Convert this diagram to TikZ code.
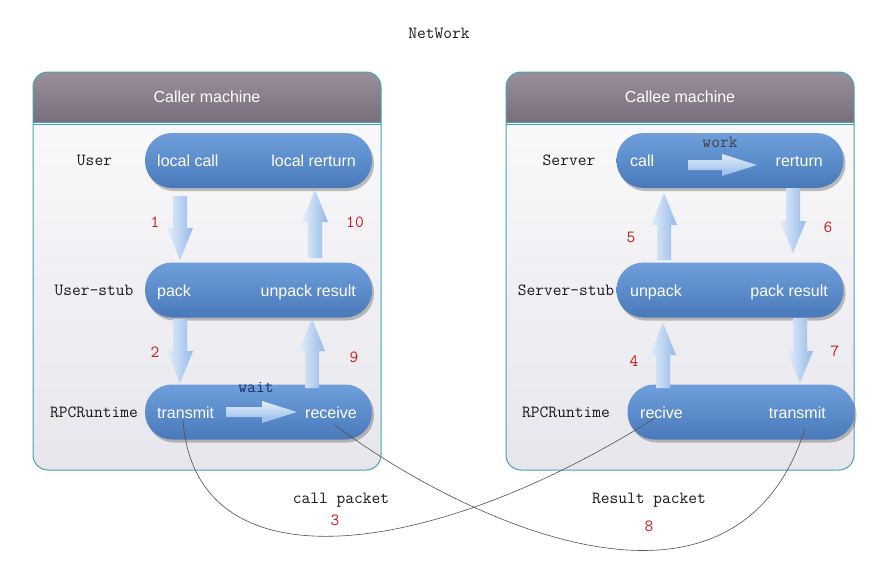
\documentclass[tikz,border=0pt]{standalone}
\usepackage{fontspec}
\setmainfont{Liberation Sans}
\usetikzlibrary{calc,shadows}
\definecolor{tealb}{HTML}{45A3B5}
\definecolor{hdtop}{HTML}{9A909C}
\definecolor{hdbot}{HTML}{6C6270}
\definecolor{bdtop}{HTML}{FAFAFC}
\definecolor{bdbot}{HTML}{E6E6EC}
\definecolor{pilltop}{HTML}{6E9FDB}
\definecolor{pillbot}{HTML}{4A79BA}
\definecolor{arlight}{HTML}{E4EEFA}
\definecolor{armid}{HTML}{B4D0F3}
\definecolor{ardark}{HTML}{93B9E9}
\definecolor{numred}{HTML}{C81818}
\definecolor{navy}{HTML}{1F2F6F}
\definecolor{curvec}{HTML}{505050}
\tikzset{
  pill/.style={shape=rectangle, rounded corners=27pt, minimum width=227pt, minimum height=55pt,
    top color=pilltop, bottom color=pillbot, draw=none,
    drop shadow={shadow xshift=2pt, shadow yshift=-3pt, opacity=.35, fill=black!70}},
  sanstxt/.style={inner sep=0pt, font=\fontsize{16}{19}\selectfont, text=white},
  monotxt/.style={inner sep=0pt, font=\ttfamily\fontsize{17}{20}\selectfont, text=black!90},
  numtxt/.style={monotxt, text=numred},
  fat/.style n args={3}{to path={
    ($(\tikztotarget)!#3!(\tikztostart)$) coordinate (fahead)
    ($(\tikztostart)!#1!90:(\tikztotarget)$) -- ($(fahead)!#1!90:(\tikztotarget)$)
    -- ($(fahead)!#2!90:(\tikztotarget)$) -- (\tikztotarget)
    -- ($(fahead)!#2!-90:(\tikztotarget)$) -- ($(fahead)!#1!-90:(\tikztotarget)$)
    -- ($(\tikztostart)!#1!-90:(\tikztotarget)$) -- cycle}},
  vfat/.style={fat={7pt}{13pt}{32pt}, left color=arlight, middle color=armid, right color=ardark},
  hfat/.style={fat={5pt}{11pt}{35pt}, top color=arlight, middle color=armid, bottom color=ardark},
  curve/.style={draw=curvec, line width=0.6pt},
}
\begin{document}
\begin{tikzpicture}[x=1pt,y=-1pt]
\useasboundingbox[fill=white] (0,0) rectangle (884,574);

% machine frames
\foreach \xa/\xb in {33/381, 506/854}{
  \begin{scope}
    \clip (\xa-10,60) rectangle (\xb+10,122.5);
    \shade[draw=tealb, line width=1pt, rounded corners=15pt, top color=hdtop, bottom color=hdbot]
      (\xa,72) rectangle (\xb,140);
  \end{scope}
  \draw[tealb, line width=1pt] (\xa,122) -- (\xb,122);
  \begin{scope}
    \clip (\xa-10,123.5) rectangle (\xb+10,480);
    \shade[draw=tealb, line width=1pt, rounded corners=15pt, top color=bdtop, bottom color=bdbot]
      (\xa,100) rectangle (\xb,470);
  \end{scope}
  \draw[tealb, line width=1pt] (\xa,124) -- (\xb,124);
}
\node[sanstxt, anchor=base] (callerT) at (207,102) {Caller machine};
\node[sanstxt, anchor=base] (calleeT) at (680,102) {Callee machine};

% title
\node[monotxt, anchor=base] (netw) at (439,38) {NetWork};

% pills
\node[pill] (uP) at (258.5,160.5) {};
\node[pill] (usP) at (258.5,290) {};
\node[pill] (rP) at (258.5,412) {};
\node[pill] (sP) at (730,160.5) {};
\node[pill] (ssP) at (730,290) {};
\node[pill] (rrP) at (741,412) {};

% pill texts
\node[sanstxt, anchor=base west] (lcall) at (157,166) {local call};
\node[sanstxt, anchor=base east] (lret) at (356,166) {local rerturn};
\node[sanstxt, anchor=base west] (packL) at (157,296) {pack};
\node[sanstxt, anchor=base east] (unpackL) at (356,296) {unpack result};
\node[sanstxt, anchor=base west] (trL) at (157,418) {transmit};
\node[sanstxt, anchor=base east] (recL) at (357,418) {receive};
\node[sanstxt, anchor=base west] (callR) at (630,166) {call};
\node[sanstxt, anchor=base east] (retR) at (823,166) {rerturn};
\node[sanstxt, anchor=base west] (unpR) at (630,296) {unpack};
\node[sanstxt, anchor=base east] (packR) at (828,296) {pack result};
\node[sanstxt, anchor=base west] (recR) at (640,418) {recive};
\node[sanstxt, anchor=base east] (trR) at (826,418) {transmit};

% row labels
\node[monotxt, anchor=base] (lbU) at (94.5,165) {User};
\node[monotxt, anchor=base] (lbUS) at (94,295) {User-stub};
\node[monotxt, anchor=base] (lbR) at (94,417) {RPCRuntime};
\node[monotxt, anchor=base] (lbS) at (569,165) {Server};
\node[monotxt, anchor=base] (lbSS) at (566,295) {Server-stub};
\node[monotxt, anchor=base] (lbRR) at (566,417) {RPCRuntime};

% arrow end points
\coordinate (a1s) at (180,196);  \coordinate (a1e) at (180,260);
\coordinate (a10s) at (315,258); \coordinate (a10e) at (315,190);
\coordinate (a2s) at (180,319);  \coordinate (a2e) at (180,383);
\coordinate (a9s) at (312,388);  \coordinate (a9e) at (312,319);
\coordinate (a5s) at (664,260);  \coordinate (a5e) at (664,193);
\coordinate (a6s) at (793,188);  \coordinate (a6e) at (793,253);
\coordinate (a4s) at (663,388);  \coordinate (a4e) at (663,323);
\coordinate (a7s) at (800,318);  \coordinate (a7e) at (800,383);
\coordinate (aws) at (226,412);  \coordinate (awe) at (297,412);
\coordinate (aks) at (688,165);  \coordinate (ake) at (757,165);

\shade[vfat] (a1s) to (a1e);
\shade[vfat] (a10s) to (a10e);
\shade[vfat] (a2s) to (a2e);
\shade[vfat] (a9s) to (a9e);
\shade[vfat] (a5s) to (a5e);
\shade[vfat] (a6s) to (a6e);
\shade[vfat] (a4s) to (a4e);
\shade[vfat] (a7s) to (a7e);
\shade[hfat] (aws) to (awe);
\shade[hfat] (aks) to (ake);

\node[monotxt, text=navy, anchor=base] (waitT) at (256,392) {wait};
\node[monotxt, text=black!75, anchor=base] (workT) at (720,147) {work};

% step numbers
\node[numtxt, anchor=base] (n1) at (155,227) {1};
\node[numtxt, anchor=base] (n10) at (355,227) {10};
\node[numtxt, anchor=base] (n2) at (155,357) {2};
\node[numtxt, anchor=base] (n9) at (354,362) {9};
\node[numtxt, anchor=base] (n5) at (631,242) {5};
\node[numtxt, anchor=base] (n6) at (828,232) {6};
\node[numtxt, anchor=base] (n4) at (634,366) {4};
\node[numtxt, anchor=base] (n7) at (835,356) {7};
\node[numtxt, anchor=base] (n3) at (335,525) {3};
\node[numtxt, anchor=base] (n8) at (649,531) {8};

% packet labels
\node[monotxt, anchor=base] (cpk) at (341,503) {call packet};
\node[monotxt, anchor=base] (rpk) at (649,503) {Result packet};

% network curves
\coordinate (cA0) at (183,420); \coordinate (cA1) at (655,418);
\coordinate (cB0) at (335,425); \coordinate (cB1) at (805,429);
\draw[curve] (cA0) .. controls (195,590) and (430,560) .. (cA1);
\draw[curve] (cB0) .. controls (440,505) and (730,660) .. (cB1);
\end{tikzpicture}
\end{document}
